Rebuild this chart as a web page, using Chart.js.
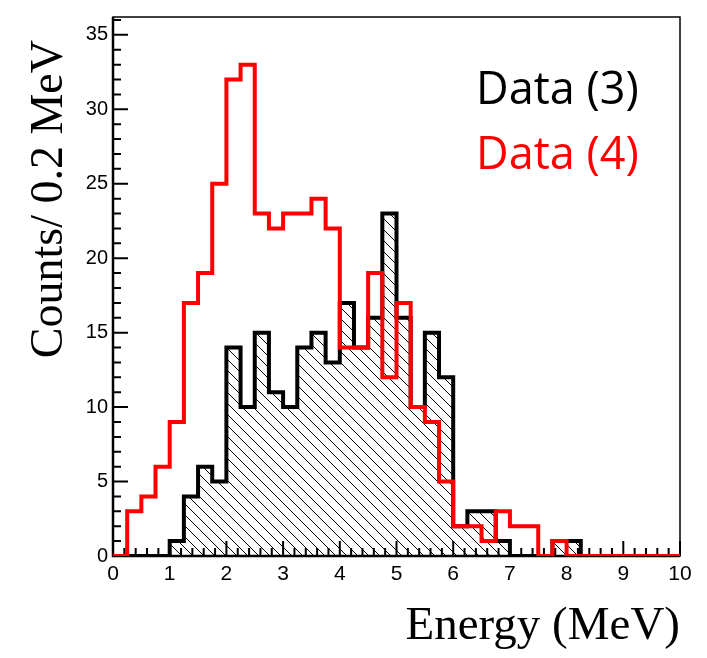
<!DOCTYPE html>
<html>
<head>
<meta charset="utf-8">
<script src="https://cdn.jsdelivr.net/npm/chart.js@4.4.0/dist/chart.umd.min.js"></script>
<style>
  html, body { margin: 0; padding: 0; background: #fff; }
  #wrap { width: 707px; height: 658px; }
</style>
</head>
<body>
<div id="wrap"><canvas id="energyChart" width="707" height="658"></canvas></div>
<script>
// bin low edges (0.25 MeV bins) plus the final upper edge
var binEdges = [0, 0.25, 0.5, 0.75, 1, 1.25, 1.5, 1.75, 2, 2.25, 2.5, 2.75, 3, 3.25, 3.5, 3.75,
  4, 4.25, 4.5, 4.75, 5, 5.25, 5.5, 5.75, 6, 6.25, 6.5, 6.75, 7, 7.25, 7.5, 7.75,
  8, 8.25, 8.5, 8.75, 9, 9.25, 9.5, 9.75, 10];

// counts per bin
var data3 = [0, 0, 0, 0, 1, 4, 6, 5, 14, 10, 15, 11, 10, 14, 15, 13,
  17, 14, 16, 23, 16, 10, 15, 12, 2, 3, 3, 1, 0, 0, 0, 1,
  1, 0, 0, 0, 0, 0, 0, 0];
var data4 = [0, 3, 4, 6, 9, 17, 19, 25, 32, 33, 23, 22, 23, 23, 24, 22,
  14, 14, 19, 12, 17, 10, 9, 5, 2, 2, 1, 3, 2, 2, 0, 1,
  0, 0, 0, 0, 0, 0, 0, 0];

var xTickValues = [0, 1, 2, 3, 4, 5, 6, 7, 8, 9, 10];
var yTickValues = [0, 5, 10, 15, 20, 25, 30, 35];
var seriesNames = ['Data (3)', 'Data (4)'];

function toSteps(values) {
  var pts = values.map(function(v, i) {
    return { x: binEdges[i], y: v };
  });
  pts.push({ x: binEdges[values.length], y: values[values.length - 1] });
  return pts;
}

function makeHatch(ctx) {
  var s = 11;
  var tile = document.createElement('canvas');
  tile.width = s;
  tile.height = s;
  var g = tile.getContext('2d');
  g.strokeStyle = '#000';
  g.lineWidth = 1;
  g.beginPath();
  g.moveTo(-1, -1); g.lineTo(s + 1, s + 1);
  g.moveTo(-1, s - 1); g.lineTo(1, s + 1);
  g.moveTo(s - 1, -1); g.lineTo(s + 1, 1);
  g.stroke();
  return ctx.createPattern(tile, 'repeat');
}

// frame + inward tick marks, drawn under the histograms
var axisFrame = {
  id: 'axisFrame',
  beforeDatasetsDraw: function(chart) {
    var c = chart.ctx, a = chart.chartArea;
    var xs = chart.scales.x, ys = chart.scales.y;
    var xMinorStep = 0.2, yMinorStep = 1;
    c.save();
    c.strokeStyle = '#000';
    c.lineWidth = 1.5;
    c.strokeRect(a.left, a.top, a.right - a.left, a.bottom - a.top);
    c.lineWidth = 2.5;
    c.beginPath();
    c.moveTo(a.left, a.top);
    c.lineTo(a.left, a.bottom);
    c.lineTo(a.right, a.bottom);
    c.stroke();

    c.lineWidth = 2;
    c.beginPath();
    for (var i = 0; i * xMinorStep <= xs.max + 1e-9; i++) {
      var px = xs.getPixelForValue(i * xMinorStep);
      var len = (i % 5 === 0) ? 15 : 8;
      c.moveTo(px, a.bottom);
      c.lineTo(px, a.bottom - len);
    }
    for (var j = 0; j * yMinorStep <= ys.max; j++) {
      var py = ys.getPixelForValue(j * yMinorStep);
      var l2 = (j % 5 === 0) ? 15 : 8;
      c.moveTo(a.left, py);
      c.lineTo(a.left + l2, py);
    }
    c.stroke();
    c.restore();
  },
  afterDraw: function(chart) {
    var c = chart.ctx;
    c.save();
    // y axis title, right aligned at the top like ROOT
    c.translate(50, 40);
    c.rotate(-Math.PI / 2);
    c.fillStyle = '#000';
    c.font = '46px "Liberation Serif"';
    c.textAlign = 'right';
    c.textBaseline = 'middle';
    c.fillText('Counts/ 0.2 MeV', 0, 0);
    c.restore();

    c.save();
    c.font = '45px "Open Sans"';
    c.textAlign = 'left';
    c.textBaseline = 'alphabetic';
    c.fillStyle = '#000';
    c.fillText(seriesNames[0], 476, 104);
    c.fillStyle = '#ff0000';
    c.fillText(seriesNames[1], 476, 169);
    c.restore();
  }
};

var ctx = document.getElementById('energyChart').getContext('2d');
var hatch = makeHatch(ctx);

new Chart(ctx, {
  type: 'line',
  data: {
    datasets: [{
      label: seriesNames[1],
      data: toSteps(data4),
      stepped: true,
      borderColor: '#ff0000',
      borderWidth: 4,
      pointRadius: 0,
      fill: false,
      order: 0
    }, {
      label: seriesNames[0],
      data: toSteps(data3),
      stepped: true,
      borderColor: '#000000',
      borderWidth: 4,
      pointRadius: 0,
      fill: 'origin',
      backgroundColor: hatch,
      order: 1
    }]
  },
  options: {
    responsive: false,
    animation: false,
    layout: { padding: { top: 10, right: 27, left: 0, bottom: 0 } },
    plugins: {
      legend: { display: false },
      tooltip: { enabled: false }
    },
    scales: {
      x: {
        type: 'linear',
        min: 0,
        max: 10,
        afterBuildTicks: function(scale) {
          scale.ticks = xTickValues.map(function(v) { return { value: v }; });
        },
        afterFit: function(scale) { scale.height = 102; },
        grid: { display: false, drawTicks: false },
        border: { display: false },
        ticks: {
          color: '#000',
          font: { family: 'Liberation Sans', size: 21 },
          padding: 6,
          maxRotation: 0,
          autoSkip: false
        },
        title: {
          display: true,
          text: 'Energy (MeV)',
          align: 'end',
          color: '#000',
          font: { family: 'Liberation Serif', size: 47 },
          padding: { top: 0, bottom: 3 }
        }
      },
      y: {
        type: 'linear',
        min: 0,
        max: 36.2,
        afterBuildTicks: function(scale) {
          scale.ticks = yTickValues.map(function(v) { return { value: v }; });
        },
        afterFit: function(scale) { scale.width = 113; },
        grid: { display: false, drawTicks: false },
        border: { display: false },
        ticks: {
          color: '#000',
          font: { family: 'Liberation Sans', size: 20 },
          padding: 5,
          autoSkip: false
        }
      }
    }
  },
  plugins: [axisFrame]
});
</script>
</body>
</html>
